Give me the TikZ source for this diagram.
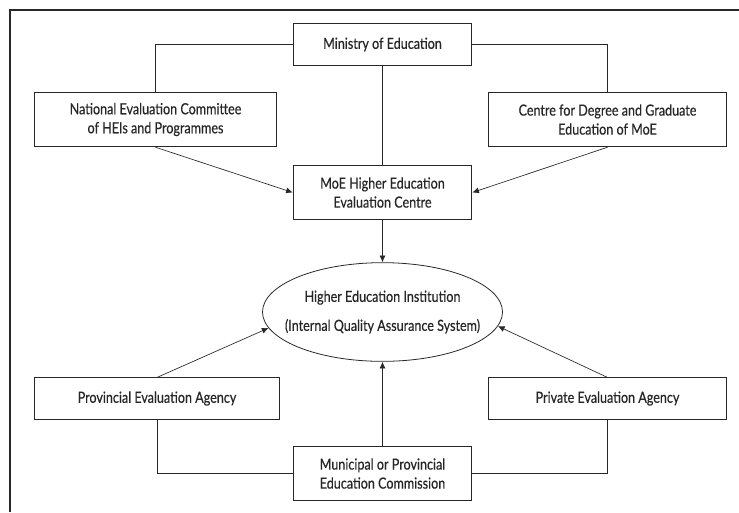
\documentclass[tikz,border=0pt]{standalone}
\usepackage{fontspec}
\setmainfont{Lato}[FakeStretch=0.82, FakeBold=0.4]
\usetikzlibrary{arrows.meta,positioning,shapes.geometric}
\definecolor{qaline}{RGB}{40,40,40}

\begin{document}
\begin{tikzpicture}[x=0.75pt, y=-0.75pt,
  qabox/.style={draw=qaline, line width=0.6pt, align=center, inner sep=0pt, text=black!85, font=\fontsize{11.5}{14.25}\selectfont},
  link/.style={draw=qaline, line width=0.5pt},
  arr/.style={link, -{Latex[length=5pt, width=4.5pt]}}]
\useasboundingbox (0,0) rectangle (739,512);
% frame
\draw[qaline, line width=0.8pt] (10,512) -- (10,10) -- (739,10);
% boxes
\node[qabox, minimum width=134pt, minimum height=31pt] (moe) at (382.5,44.5) {Ministry of Education};
\node[qabox, minimum width=182pt, minimum height=41pt] (nec) at (155.5,119.5) {National Evaluation Committee\\of HEIs and Programmes};
\node[qabox, minimum width=179pt, minimum height=41pt] (cdge) at (607.5,119.5) {Centre for Degree and Graduate\\Education of MoE};
\node[qabox, minimum width=134pt, minimum height=41pt] (heec) at (382.5,192.5) {MoE Higher Education\\Evaluation Centre};
\node[qabox, ellipse, inner xsep=-10pt, minimum width=180pt, minimum height=74pt, font=\fontsize{11.5}{21.75}\selectfont] (hei) at (382.5,312) {Higher Education Institution\\(Internal Quality Assurance System)};
\node[qabox, minimum width=184pt, minimum height=31pt] (pea) at (157,398.5) {Provincial Evaluation Agency};
\node[qabox, minimum width=179pt, minimum height=31pt] (priv) at (607.5,398.5) {Private Evaluation Agency};
\node[qabox, minimum width=134pt, minimum height=41pt] (mec) at (382.5,473.5) {Municipal or Provincial\\Education Commission};
% ministry links
\draw[link] (moe.west) -| (nec.north);
\draw[link] (moe.east) -| (cdge.north);
\draw[link] (moe) -- (heec);
\draw[arr] (nec.south) -- (heec.west);
\draw[arr] (cdge.south) -- (heec.east);
\draw[arr] (heec) -- (hei);
% local level
\draw[link] (pea.south) |- (mec.west);
\draw[link] (priv.south) |- (mec.east);
\draw[arr] (mec) -- (hei);
\draw[arr] (pea.north) -- (hei.188);
\draw[arr] (priv.north) -- (hei.-7);
\end{tikzpicture}
\end{document}
